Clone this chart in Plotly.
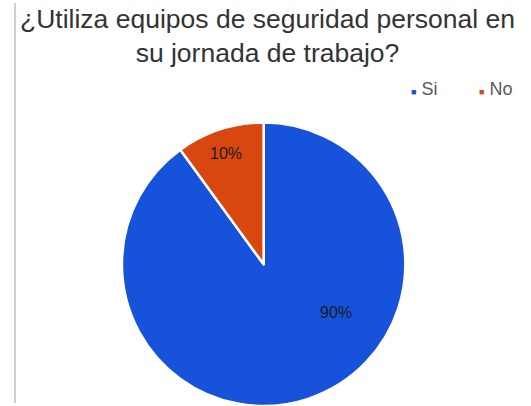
import plotly.graph_objects as go

# Survey answers and their shares (percent)
categories = ["Si", "No"]
values = [90, 10]
colors = ["#1652DA", "#D8470F"]

title_lines = ["¿Utiliza equipos de seguridad personal en", "su jornada de trabajo?"]

W, H = 531, 406
total = sum(values)

fig = go.Figure(
    go.Pie(
        labels=categories,
        values=values,
        sort=False,
        direction="clockwise",
        rotation=0,
        marker=dict(colors=colors, line=dict(color="white", width=2.5)),
        textinfo="none",
        hoverinfo="label+percent",
        showlegend=False,
        domain=dict(x=[0.227, 0.766], y=[0.0, 0.698]),
    )
)

# Percentage labels placed inside each slice
label_pos = {"No": (226, 153), "Si": (336, 312)}
for cat, val in zip(categories, values):
    px, py = label_pos[cat]
    fig.add_annotation(
        x=px / W, y=1 - py / H, xref="paper", yref="paper",
        text=f"{round(100 * val / total)}%", showarrow=False,
        font=dict(family="Liberation Sans Narrow, Liberation Sans", size=16, color="#1c1c1c"),
        xanchor="center", yanchor="middle",
    )

# Title
fig.add_annotation(
    x=267 / W, y=1 - 36 / H, xref="paper", yref="paper",
    text="<br>".join(title_lines), showarrow=False,
    font=dict(family="Liberation Sans", size=26.5, color="#333333"),
    xanchor="center", yanchor="middle", align="center",
)

# Legend with small square markers
legend_x = {"Si": 409, "No": 477}
for cat, col in zip(categories, colors):
    fig.add_annotation(
        x=legend_x[cat] / W, y=1 - 89 / H, xref="paper", yref="paper",
        text=f'<span style="color:{col};font-size:9px">■</span> {cat}',
        showarrow=False,
        font=dict(family="Liberation Sans", size=18, color="#595959"),
        xanchor="left", yanchor="middle",
    )

# Thin vertical rule on the left side
fig.add_shape(
    type="line", xref="paper", yref="paper",
    x0=15 / W, x1=15 / W, y0=1 - 403 / H, y1=1 - 3 / H,
    line=dict(color="#cfcfcf", width=2),
)

fig.update_layout(
    width=W, height=H,
    margin=dict(l=0, r=0, t=0, b=0),
    paper_bgcolor="white",
    plot_bgcolor="white",
)

fig.write_html("out.html")
